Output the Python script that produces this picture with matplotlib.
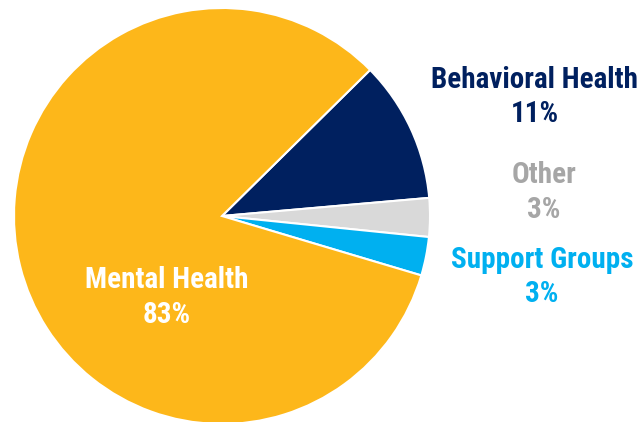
import matplotlib.pyplot as plt
from matplotlib import font_manager

# data
categories = ["Behavioral Health", "Other", "Support Groups", "Mental Health"]
shares = [11, 3, 3, 83]
colors = ["#00205F", "#D9D9D9", "#00B0F0", "#FDB71A"]
label_colors = ["#00205F", "#A6A6A6", "#00B0F0", "white"]

# prefer a condensed face if one happens to be installed
names = {f.name for f in font_manager.fontManager.ttflist}
family = ["Liberation Sans", "DejaVu Sans"]
for cand in ["Liberation Sans Narrow", "Roboto Condensed", "Arial Narrow"]:
    if cand in names:
        family = [cand, "DejaVu Sans"]
        break

W, H = 644, 422
fig = plt.figure(figsize=(W / 100, H / 100), dpi=100)
ax = fig.add_axes([0, 0, 1, 1])

ax.pie(shares, colors=colors, startangle=44.6, counterclock=False,
       center=(222, H - 216), radius=208,
       wedgeprops=dict(edgecolor="white", linewidth=1.5))
ax.set_xlim(0, W)
ax.set_ylim(0, H)
ax.set_aspect("equal")
ax.axis("off")

# label positions: x centre, y of name line, y of percent line (pixels from top)
label_pos = [(535, 77, 111), (544, 172, 207), (542, 257, 291), (167, 277, 312)]
for name, val, col, (x, y1, y2) in zip(categories, shares, label_colors, label_pos):
    for txt, y in [(name, y1), (f"{val}%", y2)]:
        ax.text(x, H - y, txt, ha="center", va="center_baseline",
                color=col, fontsize=21, fontweight="bold", family=family)

fig.savefig("out.png", dpi=100)
